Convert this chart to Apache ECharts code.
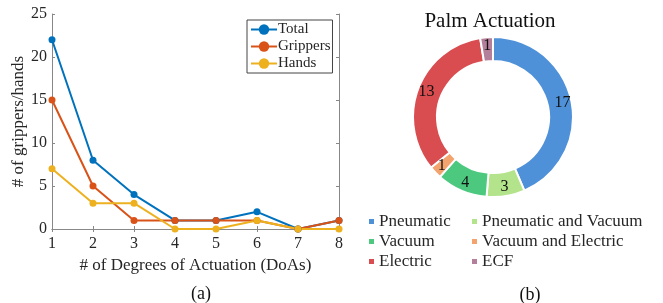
<!DOCTYPE html>
<html>
<head>
<meta charset="utf-8">
<script src="https://cdn.jsdelivr.net/npm/echarts@6/dist/echarts.min.js"></script>
<style>
  html, body { margin: 0; padding: 0; background: #fff; }
  #chart { width: 663px; height: 303px; }
</style>
</head>
<body>
<div id="chart"></div>
<script>
const doas = [1, 2, 3, 4, 5, 6, 7, 8];
const totalCounts = [22, 8, 4, 1, 1, 2, 0, 1];
const gripperCounts = [15, 5, 1, 1, 1, 1, 0, 1];
const handCounts = [7, 3, 3, 0, 0, 1, 0, 0];

const palmNames = ["Pneumatic", "Pneumatic and Vacuum", "Vacuum", "Vacuum and Electric", "Electric", "ECF"];
const palmCounts = [17, 3, 4, 1, 13, 1];
const palmColors = ["#4f91d9", "#b3e38a", "#4cc97f", "#f2a36e", "#d94c4f", "#b47f9a"];

const serif = "Liberation Serif";
const axisCol = "#888";
const textCol = "#262626";

function pairs(vals) {
  return vals.map((v, i) => [doas[i], v]);
}

function lineSeries(name, vals, color) {
  return {
    name: name,
    type: "line",
    data: pairs(vals),
    symbol: "circle",
    symbolSize: 7,
    lineStyle: { width: 2, color: color },
    itemStyle: { color: color },
    clip: false,
  };
}

// each legend gets its own text style object
function pieLegend(names, left) {
  return {
    data: names.map(n => ({ name: n, textStyle: { fontFamily: serif, fontSize: 17, color: textCol } })),
    orient: "vertical",
    left: left, top: 208,
    itemGap: 3, itemWidth: 7, itemHeight: 7,
    icon: "rect",
    textStyle: { fontFamily: serif, fontSize: 17, color: textCol, padding: [0, 0, 0, -1] },
  };
}

const chart = echarts.init(document.getElementById("chart"));
chart.setOption({
  animation: false,
  textStyle: { fontFamily: serif },
  grid: { left: 52, right: 324, top: 14, bottom: 74 },
  title: [
    { text: "Palm Actuation", left: 485, top: 6, textAlign: "center",
      textStyle: { fontFamily: serif, fontSize: 21, fontWeight: "normal", color: "#111" } },
    { text: "(a)", left: 196, top: 280, textAlign: "center",
      textStyle: { fontFamily: serif, fontSize: 18, fontWeight: "normal", color: "#111" } },
    { text: "(b)", left: 525, top: 281, textAlign: "center",
      textStyle: { fontFamily: serif, fontSize: 18, fontWeight: "normal", color: "#111" } },
  ],
  legend: [
    {
      data: ["Total", "Grippers", "Hands"],
      orient: "vertical",
      left: 247, top: 20,
      borderColor: "#444", borderWidth: 1, borderRadius: 0,
      padding: [2, 2, 2, 3],
      itemGap: 2, itemWidth: 26, itemHeight: 13,
      textStyle: { fontFamily: serif, fontSize: 15, color: textCol, padding: [0, 0, 0, -4] },
    },
    pieLegend(["Pneumatic", "Vacuum", "Electric"], 362),
    pieLegend(["Pneumatic and Vacuum", "Vacuum and Electric", "ECF"], 465),
  ],
  xAxis: [
    {
      type: "value", min: 1, max: 8, interval: 1,
      name: "# of Degrees of Actuation (DoAs)",
      nameLocation: "middle", nameGap: 28,
      nameTextStyle: { fontFamily: serif, fontSize: 17, color: textCol },
      axisLine: { show: true, lineStyle: { color: axisCol } },
      axisTick: { show: true, inside: true, length: 3, lineStyle: { color: axisCol } },
      axisLabel: { fontFamily: serif, fontSize: 16, color: textCol, margin: 7 },
      splitLine: { show: false },
    },
    {
      type: "value", min: 1, max: 8, interval: 1, position: "top",
      axisLine: { show: true, lineStyle: { color: axisCol } },
      axisTick: { show: true, inside: true, length: 3, lineStyle: { color: axisCol } },
      axisLabel: { show: false },
      splitLine: { show: false },
    },
  ],
  yAxis: [
    {
      type: "value", min: 0, max: 25, interval: 5,
      name: "# of grippers/hands",
      nameLocation: "middle", nameGap: 23,
      nameTextStyle: { fontFamily: serif, fontSize: 17, color: textCol },
      axisLine: { show: true, lineStyle: { color: axisCol } },
      axisTick: { show: true, inside: true, length: 3, lineStyle: { color: axisCol } },
      axisLabel: { fontFamily: serif, fontSize: 16, color: textCol, margin: 5 },
      splitLine: { show: false },
    },
    {
      type: "value", min: 0, max: 25, interval: 5, position: "right",
      axisLine: { show: true, lineStyle: { color: axisCol } },
      axisTick: { show: true, inside: true, length: 3, lineStyle: { color: axisCol } },
      axisLabel: { show: false },
      splitLine: { show: false },
    },
  ],
  series: [
    lineSeries("Total", totalCounts, "#0072bd"),
    lineSeries("Grippers", gripperCounts, "#d95319"),
    lineSeries("Hands", handCounts, "#edb120"),
    {
      name: "Palm Actuation",
      type: "pie",
      center: [493, 117],
      radius: [56, 80],
      startAngle: 90,
      clockwise: true,
      data: palmNames.map((n, i) => ({ name: n, value: palmCounts[i], itemStyle: { color: palmColors[i] } })),
      itemStyle: { borderColor: "#fff", borderWidth: 2 },
      label: { show: true, position: "inside", formatter: "{c}",
        fontFamily: serif, fontSize: 16, color: "#111" },
      labelLine: { show: false },
      emphasis: { disabled: true },
    },
  ],
});
</script>
</body>
</html>
